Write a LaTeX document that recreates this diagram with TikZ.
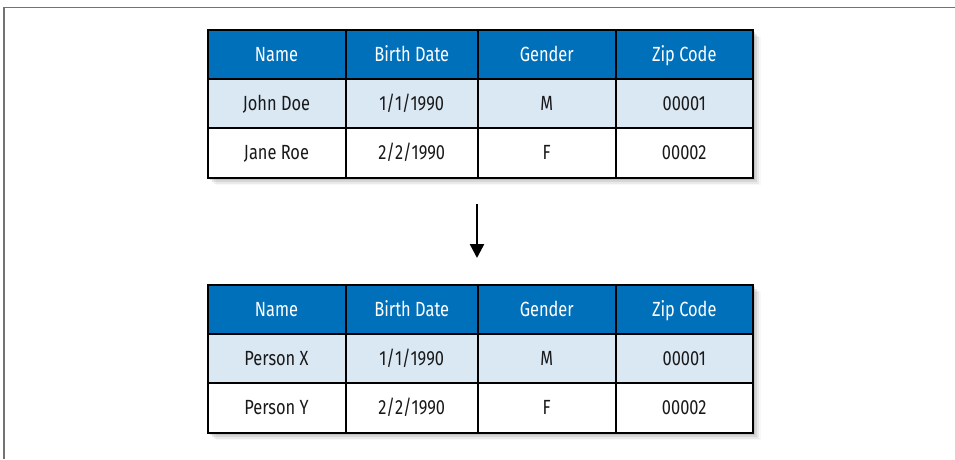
\documentclass[tikz,border=0pt]{standalone}
\usepackage{fontspec}
\setmainfont{Fira Sans}[FakeStretch=0.8]
\usetikzlibrary{shadows,arrows.meta}
\definecolor{hdr}{RGB}{0,112,186}
\definecolor{lite}{RGB}{218,232,244}
\definecolor{framegray}{RGB}{115,115,115}
\definecolor{ink}{RGB}{25,25,25}
\tikzset{
  tablebox/.style={minimum width=545.5pt, minimum height=147.5pt, inner sep=0pt, fill=white,
    drop shadow={shadow xshift=2pt, shadow yshift=-2pt, opacity=.25},
    drop shadow={shadow xshift=4pt, shadow yshift=-4pt, opacity=.18},
    drop shadow={shadow xshift=6pt, shadow yshift=-6pt, opacity=.12},
    drop shadow={shadow xshift=8pt, shadow yshift=-7pt, opacity=.06}},
  cell/.style={draw=black, line width=2pt, inner sep=0pt, minimum height=49.2pt,
    text height=16pt, text depth=2pt,
    text=ink, font=\fontsize{20.5}{22}\selectfont},
  head/.style={cell, fill=hdr, text=white},
  odd/.style={cell, fill=lite},
  even/.style={cell, fill=white},
  arr/.style={line width=2.4pt, -{Triangle[length=14pt,width=14pt]}}
}
\begin{document}
\begin{tikzpicture}[x=1pt,y=-1pt]
\useasboundingbox (0,0) rectangle (955,459);
\draw[framegray, line width=1.8pt] (4,459) -- (4,7.5) -- (955,7.5);

% top table
\node[tablebox] (top) at (480.25,103.75) {};
\foreach \r/\y/\st/\a/\b/\c/\d in {1/54.6/head/Name/Birth Date/Gender/Zip Code,
                                  2/103.75/odd/John Doe/1\slash 1\slash 1990/M/00001,
                                  3/152.9/even/Jane Roe/2\slash 2\slash 1990/F/00002}{
  \node[\st, minimum width=138pt] (t\r1) at (276.5,\y) {\a};
  \node[\st, minimum width=132.5pt] (t\r2) at (411.75,\y) {\b};
  \node[\st, minimum width=137.5pt] (t\r3) at (546.75,\y) {\c};
  \node[\st, minimum width=137.5pt] (t\r4) at (684.25,\y) {\d};
}

% bottom table
\node[tablebox] (bot) at (480.25,358.75) {};
\foreach \r/\y/\st/\a/\b/\c/\d in {1/309.6/head/Name/Birth Date/Gender/Zip Code,
                                  2/358.75/odd/Person X/1\slash 1\slash 1990/M/00001,
                                  3/407.9/even/Person Y/2\slash 2\slash 1990/F/00002}{
  \node[\st, minimum width=138pt] (b\r1) at (276.5,\y) {\a};
  \node[\st, minimum width=132.5pt] (b\r2) at (411.75,\y) {\b};
  \node[\st, minimum width=137.5pt] (b\r3) at (546.75,\y) {\c};
  \node[\st, minimum width=137.5pt] (b\r4) at (684.25,\y) {\d};
}

\draw[arr, shorten <=25.5pt, shorten >=26pt] (t33.south west) -- (b13.north west);
\end{tikzpicture}
\end{document}
